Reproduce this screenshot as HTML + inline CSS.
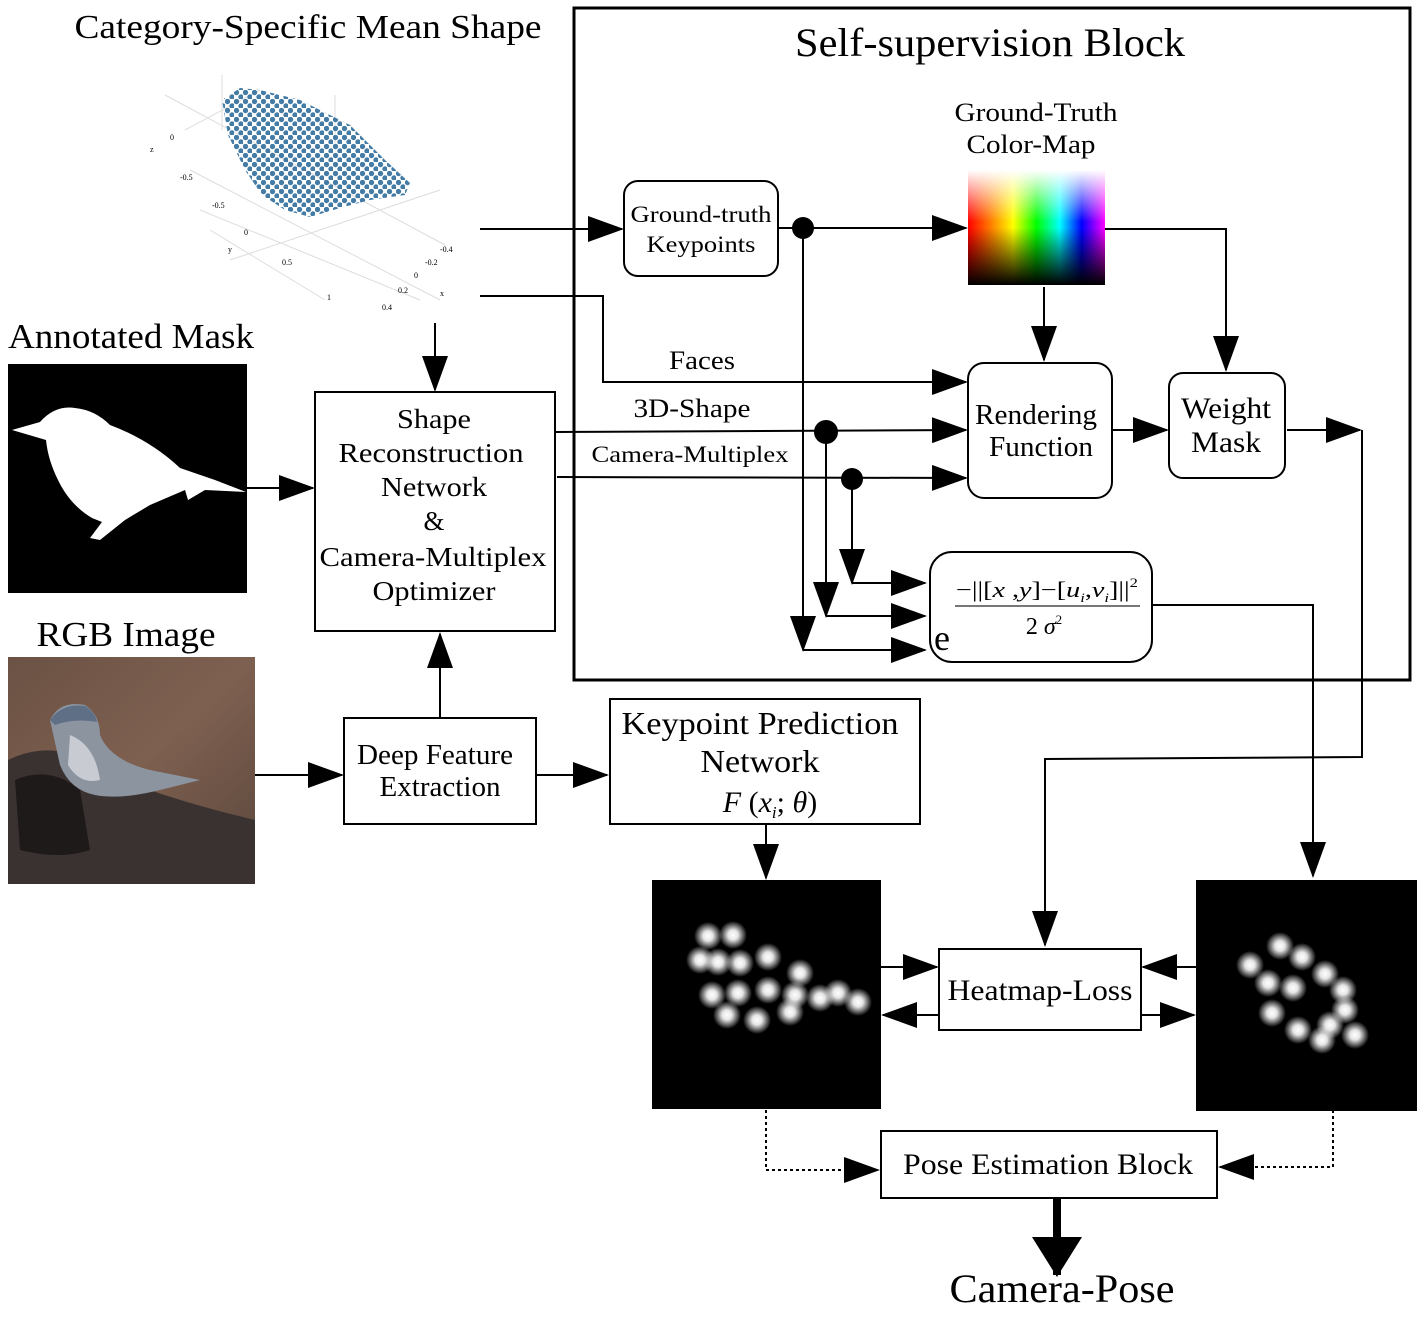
<!DOCTYPE html>
<html><head><meta charset="utf-8"><style>
body{margin:0;background:#fff}
svg{display:block}
text{font-family:"Liberation Serif",serif;fill:#000}
</style></head><body>
<svg width="1423" height="1317" viewBox="0 0 1423 1317" xmlns="http://www.w3.org/2000/svg">
<defs>
<marker id="a" markerUnits="userSpaceOnUse" markerWidth="36" markerHeight="26" refX="34" refY="13" orient="auto"><path d="M0,0 L36,13 L0,26 Z" fill="#000"/></marker>
<marker id="b" markerUnits="userSpaceOnUse" markerWidth="40" markerHeight="50" refX="38" refY="25" orient="auto"><path d="M0,0 L40,25 L0,50 Z" fill="#000"/></marker>
<linearGradient id="hue" x1="0" x2="1" y1="0" y2="0">
<stop offset="0" stop-color="#ff0000"/><stop offset="0.17" stop-color="#ff8000"/><stop offset="0.33" stop-color="#ffff00"/><stop offset="0.5" stop-color="#00ff00"/><stop offset="0.67" stop-color="#00ffff"/><stop offset="0.83" stop-color="#0000ff"/><stop offset="1" stop-color="#ff00ff"/></linearGradient>
<linearGradient id="wb" x1="0" x2="0" y1="0" y2="1"><stop offset="0" stop-color="#fff" stop-opacity="1"/><stop offset="0.45" stop-color="#fff" stop-opacity="0"/><stop offset="0.5" stop-color="#000" stop-opacity="0"/><stop offset="1" stop-color="#000" stop-opacity="1"/></linearGradient>
<radialGradient id="blob"><stop offset="0" stop-color="#fff"/><stop offset="0.35" stop-color="#fff" stop-opacity="0.9"/><stop offset="1" stop-color="#fff" stop-opacity="0"/></radialGradient>
<linearGradient id="bg" x1="0" y1="0" x2="1" y2="1"><stop offset="0" stop-color="#6b5244"/><stop offset="0.5" stop-color="#7e6050"/><stop offset="1" stop-color="#5a463c"/></linearGradient>
<pattern id="dots" patternUnits="userSpaceOnUse" width="9" height="9"><circle cx="2.5" cy="2.5" r="2.7" fill="#2f6d9c"/><circle cx="7" cy="7" r="2.7" fill="#2f6d9c"/></pattern>
</defs>

<text x="308" y="38" font-size="34" text-anchor="middle" textLength="467" lengthAdjust="spacingAndGlyphs">Category-Specific Mean Shape</text>

<!-- point cloud -->
<g stroke="#ddd" stroke-width="1">
<line x1="185" y1="130" x2="260" y2="90"/><line x1="190" y1="170" x2="440" y2="300"/><line x1="200" y1="210" x2="420" y2="300"/><line x1="230" y1="260" x2="440" y2="190"/><line x1="165" y1="95" x2="445" y2="245"/><line x1="210" y1="230" x2="325" y2="300"/><line x1="222" y1="75" x2="222" y2="130"/><line x1="335" y1="95" x2="335" y2="145"/>
</g>
<g font-size="8" style="font-family:'Liberation Sans',sans-serif" fill="#888">
<text x="170" y="140" fill="#888">0</text><text x="150" y="152" fill="#888">z</text><text x="180" y="180" fill="#888">-0.5</text><text x="212" y="208" fill="#888">-0.5</text><text x="244" y="235" fill="#888">0</text><text x="228" y="252" fill="#888">y</text><text x="282" y="265" fill="#888">0.5</text><text x="327" y="300" fill="#888">1</text><text x="382" y="310" fill="#888">0.4</text><text x="398" y="293" fill="#888">0.2</text><text x="414" y="278" fill="#888">0</text><text x="440" y="296" fill="#888">x</text><text x="425" y="265" fill="#888">-0.2</text><text x="440" y="252" fill="#888">-0.4</text>
</g>
<path d="M222,100 L240,88 L260,90 L300,100 L350,125 L385,160 L410,183 L405,195 L370,200 L340,208 L310,217 L285,210 L262,195 L245,170 L228,135 Z" fill="url(#dots)" opacity="0.9"/>

<!-- Self-supervision block -->
<rect x="574" y="8" width="836" height="672" fill="none" stroke="#000" stroke-width="3"/>
<text x="990" y="56" font-size="40" text-anchor="middle" textLength="390" lengthAdjust="spacingAndGlyphs">Self-supervision Block</text>

<rect x="624" y="181" width="154" height="95" rx="14" fill="#fff" stroke="#000" stroke-width="2"/>
<text x="701" y="222" font-size="23" text-anchor="middle" textLength="141" lengthAdjust="spacingAndGlyphs">Ground-truth</text>
<text x="701" y="252" font-size="23" text-anchor="middle" textLength="109" lengthAdjust="spacingAndGlyphs">Keypoints</text>

<text x="1036" y="121" font-size="26" text-anchor="middle" textLength="163" lengthAdjust="spacingAndGlyphs">Ground-Truth</text>
<text x="1031" y="153" font-size="26" text-anchor="middle" textLength="129" lengthAdjust="spacingAndGlyphs">Color-Map</text>
<rect x="968" y="170" width="137" height="115" fill="url(#hue)"/>
<rect x="968" y="170" width="137" height="115" fill="url(#wb)"/>

<g stroke="#000" stroke-width="2" fill="none">
<line x1="480" y1="229" x2="622" y2="229" marker-end="url(#a)"/>
<line x1="778" y1="228" x2="966" y2="228" marker-end="url(#a)"/>
<polyline points="1105,229 1226,229 1226,370" marker-end="url(#a)"/>
<line x1="1044" y1="287" x2="1044" y2="360" marker-end="url(#a)"/>
<polyline points="480,296 603,296 603,382 966,382" marker-end="url(#a)"/>
<line x1="555" y1="432" x2="966" y2="430" marker-end="url(#a)"/>
<line x1="557" y1="477" x2="966" y2="478" marker-end="url(#a)"/>
<line x1="1112" y1="430" x2="1167" y2="430" marker-end="url(#a)"/>
<line x1="1287" y1="430" x2="1360" y2="430" marker-end="url(#a)"/>
<polyline points="1362,430 1362,757 1045,759 1045,945" marker-end="url(#a)"/>
<line x1="803" y1="228" x2="803" y2="650" marker-end="url(#a)"/>
<line x1="803" y1="650" x2="925" y2="650" marker-end="url(#a)"/>
<line x1="826" y1="432" x2="826" y2="616" marker-end="url(#a)"/>
<line x1="826" y1="616" x2="925" y2="616" marker-end="url(#a)"/>
<line x1="852" y1="479" x2="852" y2="583" marker-end="url(#a)"/>
<line x1="852" y1="583" x2="925" y2="583" marker-end="url(#a)"/>
<polyline points="1152,605 1313,605 1313,876" marker-end="url(#a)"/>
<line x1="435" y1="323" x2="435" y2="390" marker-end="url(#a)"/>
<line x1="247" y1="488" x2="313" y2="488" marker-end="url(#a)"/>
<line x1="255" y1="775" x2="342" y2="775" marker-end="url(#a)"/>
<line x1="440" y1="718" x2="440" y2="634" marker-end="url(#a)"/>
<line x1="536" y1="775" x2="607" y2="775" marker-end="url(#a)"/>
<line x1="766" y1="824" x2="766" y2="878" marker-end="url(#a)"/>
<line x1="881" y1="967" x2="937" y2="967" marker-end="url(#a)"/>
<line x1="939" y1="1015" x2="883" y2="1015" marker-end="url(#a)"/>
<line x1="1196" y1="967" x2="1143" y2="967" marker-end="url(#a)"/>
<line x1="1141" y1="1015" x2="1194" y2="1015" marker-end="url(#a)"/>
<polyline points="766,1110 766,1170 878,1170" stroke-dasharray="3,3" marker-end="url(#a)"/>
<polyline points="1333,1110 1333,1167 1220,1167" stroke-dasharray="3,3" marker-end="url(#a)"/>
<line x1="1057" y1="1198" x2="1057" y2="1275" stroke-width="8" marker-end="url(#b)"/>
</g>
<circle cx="803" cy="228" r="11"/>
<circle cx="826" cy="432" r="12"/>
<circle cx="852" cy="479" r="11"/>

<text x="702" y="369" font-size="26" text-anchor="middle" textLength="66" lengthAdjust="spacingAndGlyphs">Faces</text>
<text x="692" y="417" font-size="26" text-anchor="middle" textLength="117" lengthAdjust="spacingAndGlyphs">3D-Shape</text>
<text x="690" y="462" font-size="23" text-anchor="middle" textLength="197" lengthAdjust="spacingAndGlyphs">Camera-Multiplex</text>

<rect x="968" y="363" width="144" height="135" rx="16" fill="#fff" stroke="#000" stroke-width="2"/>
<text x="1036" y="424" font-size="28" text-anchor="middle" textLength="122" lengthAdjust="spacingAndGlyphs">Rendering</text>
<text x="1041" y="456" font-size="28" text-anchor="middle" textLength="104" lengthAdjust="spacingAndGlyphs">Function</text>
<rect x="1169" y="373" width="116" height="105" rx="14" fill="#fff" stroke="#000" stroke-width="2"/>
<text x="1226" y="418" font-size="30" text-anchor="middle" textLength="90" lengthAdjust="spacingAndGlyphs">Weight</text>
<text x="1226" y="452" font-size="30" text-anchor="middle" textLength="70" lengthAdjust="spacingAndGlyphs">Mask</text>

<rect x="930" y="552" width="222" height="110" rx="22" fill="#fff" stroke="#000" stroke-width="2"/>
<text x="934" y="650" font-size="36">e</text>
<text x="1047" y="597" font-size="22" text-anchor="middle" textLength="182" lengthAdjust="spacingAndGlyphs">−||[<tspan font-style="italic">x</tspan> ,<tspan font-style="italic">y</tspan>]−[<tspan font-style="italic">u</tspan><tspan font-size="13" dy="5" font-style="italic">i</tspan><tspan dy="-5">,</tspan><tspan font-style="italic">v</tspan><tspan font-size="13" dy="5" font-style="italic">i</tspan><tspan dy="-5">]||</tspan><tspan font-size="13" dy="-10">2</tspan></text>
<line x1="955" y1="606" x2="1140" y2="606" stroke="#777" stroke-width="2"/>
<text x="1044" y="634" font-size="24" text-anchor="middle">2 <tspan font-style="italic">σ</tspan><tspan font-size="13" dy="-10">2</tspan></text>

<rect x="315" y="392" width="240" height="239" fill="#fff" stroke="#000" stroke-width="2"/>
<g font-size="27" text-anchor="middle">
<text x="434" y="428" textLength="74" lengthAdjust="spacingAndGlyphs">Shape</text>
<text x="431" y="462" textLength="185" lengthAdjust="spacingAndGlyphs">Reconstruction</text>
<text x="434" y="496" textLength="106" lengthAdjust="spacingAndGlyphs">Network</text>
<text x="434" y="530">&amp;</text>
<text x="433" y="566" textLength="227" lengthAdjust="spacingAndGlyphs">Camera-Multiplex</text>
<text x="434" y="600" textLength="123" lengthAdjust="spacingAndGlyphs">Optimizer</text>
</g>

<text x="8" y="348" font-size="35" textLength="246" lengthAdjust="spacingAndGlyphs">Annotated Mask</text>
<rect x="8" y="364" width="239" height="229" fill="#000"/>
<path d="M12,430 L40,422 Q55,405 75,408 Q95,410 110,425 Q150,440 180,468 L215,480 L246,492 L205,490 L188,500 L185,490 L150,505 L125,520 L100,540 L90,538 L102,522 L92,518 Q70,505 58,480 Q48,460 46,440 Z" fill="#fff"/>

<text x="126" y="646" font-size="35" text-anchor="middle" textLength="179" lengthAdjust="spacingAndGlyphs">RGB Image</text>
<rect x="8" y="657" width="247" height="227" fill="url(#bg)"/>
<path d="M8,760 Q60,735 110,775 Q170,800 255,820 L255,884 L8,884 Z" fill="#3a3230"/>
<path d="M15,780 Q50,765 80,790 L90,850 Q60,860 20,850 Z" fill="#1e1a1a"/>
<path d="M50,720 Q60,700 85,705 Q100,715 100,735 Q110,760 150,770 L200,780 L160,790 Q120,800 95,795 Q70,790 60,765 Z" fill="#8c94a0"/>
<path d="M50,720 Q62,703 85,706 Q95,712 97,722 Q75,718 55,725 Z" fill="#5f6f86"/>
<path d="M70,735 Q95,745 100,780 Q80,785 68,765 Z" fill="#c8ccd2"/>

<rect x="344" y="718" width="192" height="106" fill="#fff" stroke="#000" stroke-width="2"/>
<text x="435" y="764" font-size="28" text-anchor="middle" textLength="156" lengthAdjust="spacingAndGlyphs">Deep Feature</text>
<text x="440" y="796" font-size="28" text-anchor="middle" textLength="121" lengthAdjust="spacingAndGlyphs">Extraction</text>

<rect x="610" y="699" width="310" height="125" fill="#fff" stroke="#000" stroke-width="2"/>
<text x="760" y="734" font-size="32" text-anchor="middle" textLength="277" lengthAdjust="spacingAndGlyphs">Keypoint Prediction</text>
<text x="760" y="772" font-size="32" text-anchor="middle" textLength="119" lengthAdjust="spacingAndGlyphs">Network</text>
<text x="770" y="812" font-size="30" text-anchor="middle"><tspan font-style="italic">F</tspan> (<tspan font-style="italic">x</tspan><tspan font-size="17" dy="6" font-style="italic">i</tspan><tspan dy="-6">; </tspan><tspan font-style="italic">θ</tspan>)</text>

<rect x="652" y="880" width="229" height="229" fill="#000"/>
<rect x="1196" y="880" width="221" height="231" fill="#000"/>
<g fill="url(#blob)">
<circle cx="708" cy="936" r="14"/><circle cx="733" cy="935" r="14"/><circle cx="700" cy="960" r="14"/><circle cx="718" cy="962" r="14"/><circle cx="740" cy="963" r="14"/><circle cx="768" cy="957" r="14"/><circle cx="800" cy="973" r="14"/><circle cx="712" cy="995" r="14"/><circle cx="738" cy="993" r="14"/><circle cx="768" cy="990" r="14"/><circle cx="795" cy="995" r="14"/><circle cx="820" cy="998" r="14"/><circle cx="838" cy="993" r="14"/><circle cx="858" cy="1002" r="14"/><circle cx="790" cy="1012" r="14"/><circle cx="757" cy="1020" r="14"/><circle cx="727" cy="1015" r="14"/>
<circle cx="1280" cy="946" r="14"/><circle cx="1302" cy="957" r="14"/><circle cx="1250" cy="965" r="14"/><circle cx="1268" cy="983" r="14"/><circle cx="1293" cy="988" r="14"/><circle cx="1325" cy="974" r="14"/><circle cx="1343" cy="990" r="14"/><circle cx="1272" cy="1013" r="14"/><circle cx="1345" cy="1010" r="14"/><circle cx="1330" cy="1025" r="14"/><circle cx="1355" cy="1035" r="14"/><circle cx="1298" cy="1030" r="14"/><circle cx="1322" cy="1040" r="14"/>
</g>

<rect x="939" y="949" width="202" height="81" fill="#fff" stroke="#000" stroke-width="2"/>
<text x="1040" y="1000" font-size="30" text-anchor="middle" textLength="185" lengthAdjust="spacingAndGlyphs">Heatmap-Loss</text>

<rect x="881" y="1131" width="336" height="67" fill="#fff" stroke="#000" stroke-width="2"/>
<text x="1048" y="1174" font-size="30" text-anchor="middle" textLength="290" lengthAdjust="spacingAndGlyphs">Pose Estimation Block</text>
<text x="1062" y="1302" font-size="40" text-anchor="middle" textLength="225" lengthAdjust="spacingAndGlyphs">Camera-Pose</text>
</svg>
</body></html>
